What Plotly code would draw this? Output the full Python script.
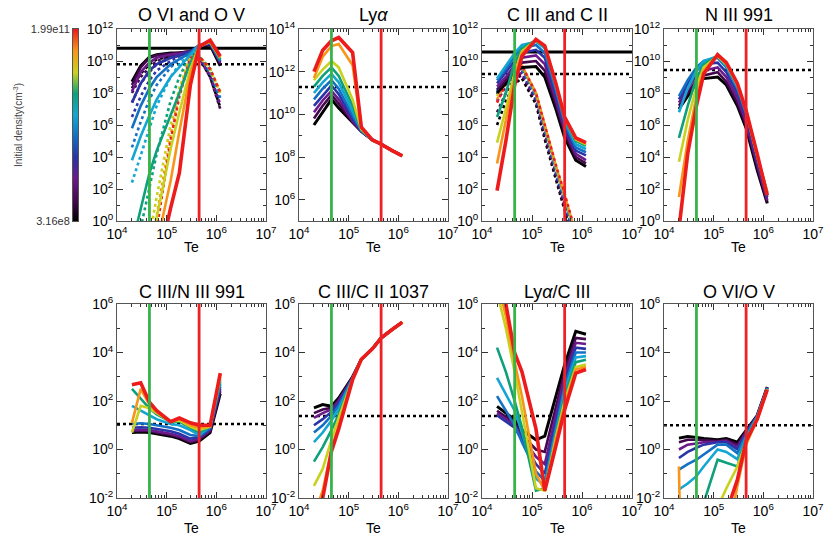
import plotly.graph_objects as go

# electron temperature grid (K)
TE = [2.0e4, 3.0e4, 4.5e4, 6.3e4, 1.2e5, 1.8e5, 3.0e5, 4.5e5, 7.5e5, 1.2e6]
# log10 of initial density for each curve, low -> high
LOG_DENSITY = [8.5, 8.81, 9.12, 9.43, 9.74, 10.06, 10.37, 10.68, 10.99, 11.3]
DENSITY_LABELS = ['3.16e8', '1.99e11']
TE_GREEN = 4.5e4
TE_RED = 4.5e5

# all values below are log10, one row per initial density
OVI = [
    [8.7, 9.7, 10.25, 10.4, 10.5, 10.5, 10.6, 10.9, 11.0, 9.7],
    [8.5, 9.6, 10.2, 10.35, 10.45, 10.5, 10.6, 10.9, 11.05, 9.8],
    [8.1, 9.3, 9.9, 10.2, 10.4, 10.45, 10.6, 10.95, 11.1, 9.9],
    [7.4, 8.6, 9.4, 9.8, 10.2, 10.35, 10.6, 10.95, 11.1, 10.0],
    [5.8, 7.2, 8.3, 9.0, 9.8, 10.1, 10.5, 11.0, 11.15, 10.0],
    [3.8, 5.3, 6.6, 7.6, 9.0, 9.6, 10.4, 11.0, 11.15, 10.1],
    [-1.5, 0.8, 3.0, 4.4, 6.6, 8.0, 9.9, 10.9, 11.2, 10.1],
    [-8.0, -5.0, -2.0, 0.2, 4.5, 6.8, 9.5, 10.9, 11.2, 10.2],
    [-12.0, -8.0, -4.0, -1.5, 2.5, 5.6, 9.2, 10.9, 11.25, 10.2],
    [-14.0, -10.0, -6.0, -3.0, 0.8, 3.0, 8.5, 10.9, 11.3, 10.3],
]
OV = [
    [8.3, 9.2, 9.8, 10.1, 10.3, 10.4, 10.5, 10.2, 9.0, 7.1],
    [8.0, 9.0, 9.6, 10.0, 10.3, 10.4, 10.5, 10.2, 9.0, 7.0],
    [7.4, 8.6, 9.3, 9.8, 10.2, 10.35, 10.5, 10.2, 9.1, 7.3],
    [6.5, 7.8, 8.8, 9.4, 10.0, 10.3, 10.5, 10.25, 9.2, 7.5],
    [4.6, 6.2, 7.6, 8.5, 9.6, 10.1, 10.5, 10.3, 9.3, 7.7],
    [2.4, 4.1, 5.8, 7.2, 9.0, 9.8, 10.5, 10.3, 9.4, 7.9],
    [-3.0, -0.5, 2.0, 4.2, 7.5, 9.0, 10.4, 10.3, 9.5, 8.0],
    [-8.0, -4.0, -1.0, 1.5, 6.0, 8.3, 10.3, 10.3, 9.5, 8.0],
    [-10.0, -6.0, -2.0, 0.3, 5.3, 8.0, 10.3, 10.3, 9.5, 8.1],
    [-12.0, -8.0, -3.0, -0.5, 5.0, 7.8, 10.2, 10.3, 9.5, 8.0],
]
LYA = [
    [9.5, 10.1, 10.7, 10.3, 9.6, 9.2, 8.8, 8.6, 8.3, 8.05],
    [9.8, 10.4, 10.9, 10.5, 9.65, 9.2, 8.8, 8.6, 8.3, 8.05],
    [10.1, 10.65, 11.1, 10.7, 9.7, 9.2, 8.8, 8.6, 8.3, 8.05],
    [10.4, 10.9, 11.35, 10.95, 9.8, 9.22, 8.8, 8.6, 8.3, 8.05],
    [10.7, 11.2, 11.6, 11.2, 9.95, 9.24, 8.8, 8.6, 8.3, 8.05],
    [11.0, 11.5, 11.9, 11.5, 10.15, 9.26, 8.8, 8.6, 8.3, 8.05],
    [11.3, 11.8, 12.2, 11.8, 10.4, 9.28, 8.8, 8.6, 8.3, 8.05],
    [11.6, 12.1, 12.5, 12.2, 10.7, 9.3, 8.8, 8.6, 8.3, 8.05],
    [11.7, 12.7, 13.2, 13.3, 12.3, 9.35, 8.8, 8.6, 8.3, 8.05],
    [12.0, 13.0, 13.45, 13.6, 12.9, 9.4, 8.8, 8.6, 8.3, 8.05],
]
CIII = [
    [8.0, 8.6, 9.3, 9.6, 9.65, 9.0, 7.0, 5.2, 3.8, 3.4],
    [8.2, 8.8, 9.5, 9.9, 10.0, 9.4, 7.3, 5.5, 4.0, 3.6],
    [8.4, 9.0, 9.75, 10.2, 10.35, 9.8, 7.6, 5.7, 4.2, 3.8],
    [8.6, 9.3, 10.0, 10.5, 10.7, 10.2, 7.9, 5.9, 4.4, 4.1],
    [8.8, 9.5, 10.3, 10.8, 11.0, 10.5, 8.2, 6.1, 4.6, 4.3],
    [8.9, 9.7, 10.5, 11.0, 11.2, 10.8, 8.4, 6.3, 4.8, 4.5],
    [6.5, 8.0, 9.9, 10.8, 11.3, 10.9, 8.5, 6.4, 5.0, 4.7],
    [4.9, 7.0, 9.3, 10.6, 11.3, 10.95, 8.55, 6.45, 5.1, 4.8],
    [3.6, 6.2, 9.0, 10.5, 11.3, 10.95, 8.6, 6.5, 5.15, 4.85],
    [1.9, 5.0, 8.5, 10.3, 11.35, 10.95, 8.6, 6.5, 5.2, 4.9],
]
CII = [
    [6.0, 7.5, 8.6, 8.9, 7.3, 5.1, 2.6, 0.7, -2.0, -4.0],
    [6.8, 8.0, 8.9, 9.1, 7.5, 5.3, 2.8, 0.9, -1.8, -3.8],
    [7.5, 8.4, 9.1, 9.25, 7.6, 5.5, 3.0, 1.1, -1.6, -3.6],
    [7.9, 8.7, 9.3, 9.4, 7.7, 5.6, 3.1, 1.2, -1.5, -3.5],
    [8.1, 8.9, 9.4, 9.5, 7.8, 5.7, 3.2, 1.3, -1.4, -3.4],
    [8.2, 9.0, 9.5, 9.6, 7.9, 5.8, 3.3, 1.4, -1.3, -3.3],
    [8.0, 8.9, 9.5, 9.65, 7.95, 5.85, 3.35, 1.5, -1.2, -3.2],
    [7.8, 8.8, 9.5, 9.7, 8.0, 5.9, 3.4, 1.55, -1.1, -3.1],
    [7.6, 8.7, 9.5, 9.7, 8.0, 5.95, 3.45, 1.6, -1.05, -3.05],
    [7.4, 8.6, 9.5, 9.7, 8.0, 6.0, 3.5, 1.7, -1.0, -3.0],
]
NIII = [
    [7.0, 7.8, 8.6, 8.9, 9.0, 8.5, 7.2, 5.8, 3.2, 1.1],
    [7.2, 8.0, 8.8, 9.1, 9.3, 8.7, 7.4, 6.0, 3.4, 1.2],
    [7.4, 8.3, 9.1, 9.4, 9.6, 9.0, 7.7, 6.2, 3.6, 1.3],
    [7.6, 8.6, 9.4, 9.8, 9.9, 9.3, 8.0, 6.5, 3.8, 1.5],
    [7.8, 8.8, 9.6, 10.0, 10.2, 9.6, 8.3, 6.7, 4.0, 1.6],
    [6.8, 8.3, 9.4, 10.0, 10.3, 9.7, 8.4, 6.8, 4.1, 1.7],
    [5.2, 7.2, 8.9, 9.8, 10.3, 9.8, 8.5, 6.8, 4.1, 1.8],
    [3.7, 6.3, 8.4, 9.6, 10.3, 9.8, 8.5, 6.9, 4.1, 1.8],
    [1.5, 5.0, 7.8, 9.4, 10.35, 9.85, 8.6, 6.9, 4.1, 1.7],
    [-0.5, 4.2, 7.2, 9.2, 10.4, 9.9, 8.6, 6.9, 4.2, 1.6],
]
CIII_NIII = [
    [0.7, 0.72, 0.7, 0.65, 0.55, 0.45, 0.25, 0.35, 0.7, 2.3],
    [0.75, 0.78, 0.75, 0.7, 0.6, 0.5, 0.3, 0.4, 0.75, 2.4],
    [0.8, 0.82, 0.8, 0.75, 0.65, 0.55, 0.35, 0.45, 0.8, 2.5],
    [0.9, 0.92, 0.9, 0.85, 0.75, 0.65, 0.45, 0.5, 0.85, 2.6],
    [1.05, 1.08, 1.05, 1.0, 0.9, 0.8, 0.6, 0.55, 0.9, 2.7],
    [1.8, 1.6, 1.4, 1.25, 1.05, 1.0, 0.8, 0.6, 0.95, 2.8],
    [2.5, 2.1, 1.7, 1.45, 1.15, 1.15, 0.9, 0.7, 0.95, 2.9],
    [0.7, 1.8, 1.7, 1.5, 1.15, 1.2, 0.95, 0.8, 0.95, 3.0],
    [1.1, 2.5, 1.85, 1.55, 1.15, 1.25, 1.0, 0.9, 0.95, 3.1],
    [2.67, 2.75, 1.95, 1.6, 1.15, 1.3, 1.1, 1.0, 1.0, 3.15],
]
CIII_CII = [
    [1.72, 1.85, 1.78, 2.12, 3.0, 3.72, 4.15, 4.6, 4.95, 5.25],
    [1.5, 1.65, 1.72, 2.05, 2.98, 3.72, 4.15, 4.6, 4.95, 5.25],
    [1.3, 1.5, 1.65, 2.0, 2.96, 3.72, 4.15, 4.6, 4.95, 5.25],
    [1.0, 1.25, 1.55, 1.9, 2.95, 3.72, 4.15, 4.6, 4.95, 5.25],
    [0.7, 1.0, 1.4, 1.8, 2.93, 3.72, 4.15, 4.6, 4.95, 5.25],
    [0.3, 0.7, 1.2, 1.65, 2.92, 3.72, 4.15, 4.6, 4.95, 5.25],
    [-0.5, 0.1, 0.8, 1.45, 2.9, 3.72, 4.15, 4.6, 4.95, 5.25],
    [-1.5, -0.8, 0.4, 1.3, 2.9, 3.72, 4.15, 4.6, 4.95, 5.25],
    [-2.7, -1.7, 0.0, 1.0, 2.88, 3.72, 4.15, 4.6, 4.95, 5.25],
    [-3.2, -2.0, -0.08, 0.85, 2.88, 3.72, 4.15, 4.6, 4.95, 5.25],
]
LYA_CIII = [
    [1.78, 1.5, 1.23, 0.8, 0.4, 0.55, 2.2, 3.5, 4.87, 4.75],
    [1.6, 1.35, 1.1, 0.6, 0.0, -0.1, 1.7, 3.2, 4.6, 4.55],
    [1.5, 1.25, 1.0, 0.5, -0.3, -0.6, 1.4, 3.0, 4.4, 4.35],
    [1.4, 1.15, 0.9, 0.4, -0.6, -1.0, 1.1, 2.8, 4.2, 4.15],
    [2.2, 1.6, 1.0, 0.3, -0.9, -1.3, 0.9, 2.6, 4.0, 4.0],
    [2.95, 2.3, 1.6, 0.7, -1.2, -1.5, 0.7, 2.4, 3.8, 3.85],
    [4.2, 3.2, 2.0, 0.9, -1.7, -1.6, 0.6, 2.2, 3.6, 3.7],
    [6.5, 5.0, 3.2, 1.5, -1.6, -1.7, 0.5, 2.0, 3.4, 3.5],
    [7.0, 5.5, 3.6, 2.2, -1.0, -1.7, 0.4, 1.8, 3.3, 3.4],
    [7.5, 6.0, 3.98, 3.2, 0.85, -1.7, 0.14, 1.64, 3.15, 3.3],
]
OVI_OV = [
    [0.47, 0.54, 0.5, 0.45, 0.4, 0.45, 0.3, 0.8, 1.4, 2.58],
    [0.3, 0.4, 0.4, 0.38, 0.35, 0.4, 0.2, 0.75, 1.38, 2.56],
    [0.0, 0.2, 0.25, 0.3, 0.32, 0.35, 0.1, 0.7, 1.37, 2.55],
    [-0.35, -0.1, 0.07, 0.2, 0.3, 0.3, 0.0, 0.65, 1.36, 2.54],
    [-0.83, -0.6, -0.42, -0.2, 0.2, 0.2, -0.15, 0.6, 1.35, 2.53],
    [-1.65, -1.4, -1.1, -0.7, 0.0, -0.1, -0.4, 0.5, 1.33, 2.52],
    [-5.0, -4.0, -3.2, -2.2, -0.42, -0.55, -0.7, 0.4, 1.3, 2.5],
    [-9.0, -7.0, -5.0, -3.5, -2.4, -1.6, -0.7, 0.3, 1.28, 2.48],
    [-0.7, -20.0, -15.0, -10.0, -7.0, -4.0, -1.5, 0.2, 1.25, 2.47],
    [-10.0, -9.0, -8.0, -6.0, -4.0, -2.6, -1.25, 0.35, 1.23, 2.47],
]

TITLES = ['O VI and O V', 'Ly<i>α</i>', 'C III and C II', 'N III 991',
          'C III/N III 991', 'C III/C II 1037', 'Ly<i>α</i>/C III', 'O VI/O V']
SOLID = [OVI, LYA, CIII, NIII, CIII_NIII, CIII_CII, LYA_CIII, OVI_OV]
DOTTED = [OV, None, CII, None, None, None, None, None]
HLINE_SOLID = [10.8, None, 10.56, None, None, None, None, None]
HLINE_DOT = [9.8, 11.28, 9.19, 9.44, 1.05, 1.38, 1.38, 1.0]
YRANGE = [[0, 12], [5, 14], [0, 12], [0, 12], [-2, 6], [-2, 6], [-2, 6], [-2, 6]]

COLORS = ['#000000', '#45084f', '#6c1a8a', '#2a34a6', '#1470c4',
          '#14a6d2', '#0ea07a', '#c8d21e', '#f89418', '#ec1c1c']
FONT = 'Liberation Sans, Arial, sans-serif'

W, H = 830, 554
XPIX = [(117, 266), (299, 448), (482, 632), (664, 813)]
YPIX = [(29, 221), (304, 498)]


def sup(e):
    return '10<sup>%d</sup>' % e


fig = go.Figure()
layout = {}
annotations = []

for k in range(8):
    ax = k + 1
    xa, ya = 'x%d' % ax, 'y%d' % ax
    lo, hi = YRANGE[k]
    common = dict(xaxis=xa, yaxis=ya, mode='lines', showlegend=False, hoverinfo='skip')

    # reference levels (under the curves)
    if HLINE_SOLID[k] is not None:
        fig.add_trace(go.Scatter(x=[1e4, 1e7], y=[10 ** HLINE_SOLID[k]] * 2,
                                 line=dict(color='black', width=3), **common))
    fig.add_trace(go.Scatter(x=[1e4, 1e7], y=[10 ** HLINE_DOT[k]] * 2,
                             line=dict(color='black', width=2.5, dash='dot'), **common))

    if DOTTED[k] is not None:
        for i, row in enumerate(DOTTED[k]):
            fig.add_trace(go.Scatter(x=TE, y=[10 ** v for v in row],
                                     line=dict(color=COLORS[i], width=2.6, dash='dot'), **common))
    for i, row in enumerate(SOLID[k]):
        wd = 3.6 if i == 9 else (3.0 if i == 0 else 2.6)
        fig.add_trace(go.Scatter(x=TE, y=[10 ** v for v in row],
                                 line=dict(color=COLORS[i], width=wd), **common))

    for te, col in [(TE_GREEN, '#37b34a'), (TE_RED, '#ec2227')]:
        fig.add_trace(go.Scatter(x=[te, te], y=[10 ** lo, 10 ** hi],
                                 line=dict(color=col, width=2.8), **common))

    row, col = divmod(k, 4)
    x0, x1 = XPIX[col]
    y0, y1 = YPIX[row]
    xdom = [x0 / W, x1 / W]
    ydom = [1 - y1 / H, 1 - y0 / H]
    minor_x = [m * 10 ** d for d in range(4, 7) for m in range(2, 10)]
    layout['xaxis%d' % ax] = dict(
        domain=xdom, anchor=ya, type='log', range=[4, 7],
        tickvals=[1e4, 1e5, 1e6, 1e7], ticktext=[sup(e) for e in range(4, 8)],
        ticks='inside', ticklen=6, tickcolor='#333', showline=True, linecolor='#555',
        linewidth=1, mirror='allticks', showgrid=False, zeroline=False,
        tickfont=dict(size=14, color='black', family=FONT),
        minor=dict(tickvals=minor_x, ticks='inside', ticklen=3, tickcolor='#333'))
    majors = [e for e in range(lo, hi + 1) if e % 2 == 0]
    minors = [e for e in range(lo, hi + 1) if e % 2 != 0]
    layout['yaxis%d' % ax] = dict(
        domain=ydom, anchor=xa, type='log', range=[lo, hi],
        tickvals=[10 ** e for e in majors], ticktext=[sup(e) for e in majors],
        ticks='inside', ticklen=6, tickcolor='#333', showline=True, linecolor='#555',
        linewidth=1, mirror='allticks', showgrid=False, zeroline=False,
        tickfont=dict(size=14, color='black', family=FONT),
        minor=dict(tickvals=[10 ** e for e in minors], ticks='inside', ticklen=3,
                   tickcolor='#333'))

    xc = (x0 + x1) / 2 / W
    title_y = 1 - (15 if row == 0 else 292) / H
    te_y = 1 - (247 if row == 0 else 528) / H
    annotations.append(dict(text=TITLES[k], x=xc, y=title_y, xref='paper', yref='paper',
                            xanchor='center', yanchor='middle', showarrow=False,
                            font=dict(size=18, family=FONT, color='black')))
    annotations.append(dict(text='Te', x=xc, y=te_y, xref='paper', yref='paper',
                            xanchor='center', yanchor='middle', showarrow=False,
                            font=dict(size=14, family=FONT, color='black')))

# colour bar for initial density
scale = [[i / (len(COLORS) - 1), c] for i, c in enumerate(COLORS)]
fig.add_trace(go.Heatmap(z=[[v, v] for v in LOG_DENSITY], y=LOG_DENSITY, x=[0, 1],
                         colorscale=scale, zsmooth='best', showscale=False,
                         xaxis='x9', yaxis='y9', hoverinfo='skip'))
layout['xaxis9'] = dict(domain=[73 / W, 78 / W], anchor='y9', range=[0, 1],
                        showticklabels=False, ticks='', showgrid=False, zeroline=False,
                        showline=True, linecolor='#555', linewidth=1, mirror=True)
layout['yaxis9'] = dict(domain=[1 - 221 / H, 1 - 29 / H], anchor='x9',
                        range=[LOG_DENSITY[0], LOG_DENSITY[-1]],
                        tickvals=[LOG_DENSITY[0], LOG_DENSITY[-1]], ticktext=DENSITY_LABELS,
                        ticks='', showgrid=False, zeroline=False, showline=True,
                        linecolor='#555', linewidth=1, mirror=True,
                        tickfont=dict(size=11, color='#333', family=FONT))
annotations.append(dict(text='Initial density(cm<sup>-3</sup>)', x=18 / W, y=1 - 125 / H,
                        xref='paper', yref='paper', xanchor='center', yanchor='middle',
                        showarrow=False, textangle=-90,
                        font=dict(size=10, family=FONT, color='#444')))

fig.update_layout(width=W, height=H,
                  margin=dict(l=0, r=0, t=0, b=0, pad=0, autoexpand=False),
                  plot_bgcolor='white', paper_bgcolor='white',
                  annotations=annotations, **layout)
fig.write_html("out.html", config={'displayModeBar': False},
               post_script="document.body.style.margin='0px';")
